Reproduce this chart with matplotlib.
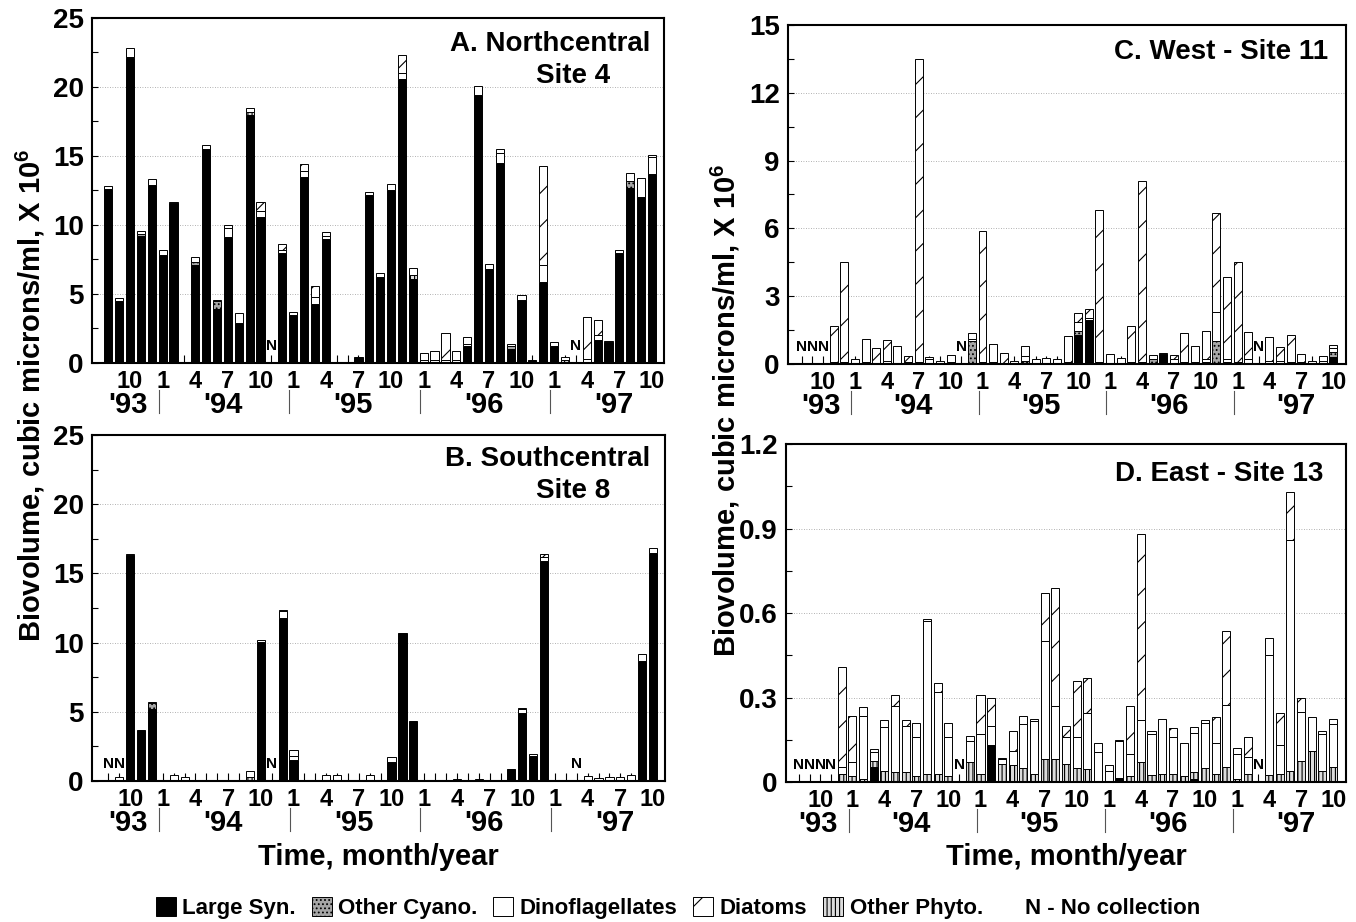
import matplotlib.pyplot as plt
from matplotlib.patches import Patch
import numpy as np

plt.rcParams['font.family'] = ['Liberation Sans', 'DejaVu Sans']
plt.rcParams['font.weight'] = 'bold'
plt.rcParams['mathtext.fontset'] = 'custom'
plt.rcParams['mathtext.rm'] = 'Liberation Sans:bold'
plt.rcParams['mathtext.bf'] = 'Liberation Sans:bold'
plt.rcParams['hatch.linewidth'] = 0.8

# months: index 0 = Aug 1993 ... index 50 = Oct 1997
months = np.arange(51)
tick_labels = ['10', '1', '4', '7'] * 4 + ['10']
years = ["'93", "'94", "'95", "'96", "'97"]

# ---- A. Northcentral Site 4 ----
a_syn = [12.6, 4.5, 22.1, 9.2, 12.9, 7.8, 11.6, 0.1, 7.1, 15.5, 3.9, 9.1, 2.9, 18.0, 10.6, 0,
         8.0, 3.5, 13.5, 4.3, 9.0, 0.05, 0.1, 0.4, 12.2, 6.2, 12.5, 20.6, 6.1, 0, 0, 0, 0, 1.2,
         19.4, 6.8, 14.5, 1.0, 4.6, 0.2, 5.9, 1.2, 0, 0, 0, 1.7, 1.5, 8.0, 12.7, 12.0, 13.7]
a_cyano = [0, 0, 0, 0.15, 0, 0, 0, 0, 0.2, 0, 0.6, 0, 0, 0, 0, 0,
           0, 0, 0, 0, 0, 0, 0, 0, 0, 0, 0, 0, 0, 0, 0, 0, 0, 0,
           0, 0, 0, 0.2, 0, 0, 0, 0, 0, 0, 0, 0, 0, 0, 0.5, 0, 0]
a_phyto = [0, 0, 0.1, 0, 0, 0, 0, 0, 0, 0, 0, 0, 0, 0.2, 0, 0,
           0, 0, 0, 0, 0, 0, 0, 0, 0, 0, 0, 0, 0.3, 0, 0, 0, 0, 0,
           0, 0, 0, 0, 0, 0, 0, 0, 0.2, 0, 0, 0, 0, 0, 0, 0, 0]
a_dino = [0.2, 0.2, 0.6, 0.25, 0.4, 0.4, 0.1, 0, 0.4, 0.3, 0.1, 0.7, 0.7, 0.3, 0.4, 0,
          0.2, 0.2, 0.4, 0.5, 0.2, 0, 0, 0, 0.2, 0.3, 0.5, 0.4, 0.5, 0.2, 0.2, 0.2, 0.2, 0.2,
          0.7, 0.4, 0.7, 0.2, 0.3, 0, 1.2, 0.3, 0.2, 0, 0.3, 0.3, 0.1, 0.2, 0.6, 1.4, 1.2]
a_diatom = [0, 0, 0, 0, 0, 0, 0, 0, 0, 0, 0, 0.2, 0, 0, 0.7, 0,
            0.4, 0, 0.5, 0.8, 0.3, 0, 0, 0, 0, 0, 0, 1.3, 0, 0.5, 0.7, 2.0, 0.7, 0.5,
            0, 0, 0.3, 0, 0, 0, 7.2, 0, 0, 0, 3.0, 1.1, 0, 0, 0, 0, 0.2]
a_none = [15, 43]

# ---- B. Southcentral Site 8 ----
b_syn = [0, 0, 16.3, 3.7, 5.2, 0.05, 0.1, 0, 0.05, 0.1, 0.1, 0.1, 0.1, 0, 10.05, 0,
         11.8, 1.5, 0.05, 0.05, 0, 0, 0.05, 0.1, 0, 0.1, 1.4, 10.7, 4.3, 0.05, 0.05, 0.05, 0, 0.1,
         0, 0.1, 0.1, 0.85, 4.9, 1.8, 15.9, 0.1, 0, 0, 0, 0, 0, 0, 0, 8.65, 16.45]
b_cyano = [0, 0, 0, 0, 0.4, 0, 0, 0, 0, 0, 0, 0, 0, 0, 0, 0,
           0, 0, 0, 0, 0, 0, 0, 0, 0, 0, 0, 0, 0, 0, 0, 0, 0, 0,
           0, 0, 0, 0, 0, 0, 0, 0, 0, 0, 0, 0, 0, 0, 0, 0, 0]
b_phyto = [0, 0, 0, 0, 0, 0, 0, 0, 0, 0, 0, 0, 0, 0.3, 0, 0,
           0, 0, 0, 0, 0, 0, 0, 0, 0, 0, 0, 0, 0, 0, 0, 0, 0, 0,
           0, 0, 0, 0, 0, 0, 0, 0, 0, 0, 0, 0, 0, 0, 0, 0, 0]
b_dino = [0, 0.3, 0.1, 0, 0.1, 0, 0.3, 0.3, 0, 0, 0, 0, 0, 0.4, 0.15, 0,
          0.45, 0.3, 0, 0, 0.45, 0.4, 0, 0, 0.4, 0, 0.3, 0, 0, 0, 0, 0, 0.15, 0,
          0.15, 0, 0, 0, 0.3, 0.15, 0.3, 0, 0, 0, 0.35, 0.2, 0.3, 0.3, 0.45, 0.55, 0.4]
b_diatom = [0, 0, 0, 0, 0, 0, 0, 0, 0, 0, 0, 0, 0, 0, 0, 0,
            0.1, 0.45, 0, 0, 0, 0, 0, 0, 0, 0, 0, 0, 0, 0, 0, 0, 0, 0,
            0, 0, 0, 0, 0.1, 0, 0.2, 0, 0, 0, 0, 0, 0, 0, 0, 0, 0]
b_none = [0, 1, 15, 43]

# ---- C. West - Site 11 ----
c_syn = [0, 0, 0, 0, 0, 0, 0, 0, 0, 0, 0, 0, 0, 0, 0, 0,
         0, 0, 0, 0, 0, 0, 0, 0, 0, 0, 1.3, 1.95, 0, 0, 0, 0, 0, 0,
         0.45, 0, 0, 0, 0.1, 0, 0.1, 0, 0, 0, 0, 0, 0, 0, 0, 0, 0.3]
c_cyano = [0, 0, 0, 0, 0, 0, 0, 0, 0, 0, 0, 0, 0, 0, 0, 0,
           1.0, 0, 0, 0, 0, 0.15, 0, 0, 0, 0, 0.15, 0, 0, 0, 0, 0, 0, 0.2,
           0, 0, 0, 0, 0, 1.0, 0, 0, 0, 0, 0, 0, 0, 0, 0, 0, 0.25]
c_phyto = [0] * 51
c_dino = [0, 0, 0, 0.1, 0.1, 0.22, 0.1, 0.05, 0.15, 0.05, 0.1, 0.1, 0.2, 0.15, 0.08, 0,
          0.1, 0.1, 0.1, 0.05, 0.15, 0.2, 0.2, 0.25, 0.2, 0.1, 0.4, 0.1, 0.1, 0.45, 0.25, 0.1, 0.1, 0.22,
          0.05, 0.2, 0.1, 0.1, 0.1, 1.3, 0.1, 0.1, 0.2, 0, 0.15, 0.15, 0.1, 0.1, 0.15, 0.15, 0.15]
c_diatom = [0, 0, 0, 1.6, 4.4, 0, 1.0, 0.65, 0.9, 0.75, 0.25, 13.4, 0.1, 0, 0.3, 0,
            0.25, 5.8, 0.8, 0.45, 0, 0.45, 0, 0, 0, 1.15, 0.4, 0.4, 6.7, 0, 0, 1.6, 8.0, 0,
            0, 0.2, 1.25, 0.7, 1.25, 4.4, 3.65, 4.4, 1.2, 0, 1.05, 0.6, 1.2, 0.35, 0, 0.2, 0.15]
c_none = [0, 1, 2, 15, 43]

# ---- D. East - Site 13 ----
d_syn = [0, 0, 0, 0, 0, 0, 0, 0.055, 0, 0, 0, 0, 0, 0, 0, 0,
         0, 0, 0.13, 0, 0, 0, 0, 0, 0, 0, 0, 0, 0.005, 0, 0.015, 0, 0, 0,
         0, 0, 0, 0.01, 0, 0, 0, 0, 0, 0, 0, 0, 0, 0, 0, 0, 0]
d_cyano = [0] * 51
d_phyto = [0, 0, 0, 0, 0.03, 0.02, 0.01, 0.02, 0.04, 0.035, 0.035, 0.02, 0.03, 0.03, 0.02, 0,
           0.07, 0.03, 0, 0.065, 0.06, 0.05, 0.03, 0.08, 0.08, 0.065, 0.05, 0.045, 0, 0.005, 0, 0.02, 0.07, 0.025,
           0.03, 0.03, 0.02, 0.025, 0.05, 0.03, 0.055, 0.01, 0.03, 0, 0.025, 0.03, 0.04, 0.075, 0.11, 0.04, 0.055]
d_dino = [0, 0, 0, 0, 0.025, 0.05, 0.225, 0.032, 0.155, 0.235, 0.165, 0.14, 0.54, 0.29, 0.14, 0,
          0.075, 0.14, 0.07, 0.015, 0.05, 0.155, 0.185, 0.42, 0.19, 0.095, 0.11, 0.2, 0.1, 0.035, 0.13, 0.08, 0.15, 0.145,
          0.195, 0.13, 0.12, 0.14, 0.16, 0.11, 0.22, 0.09, 0.06, 0, 0.425, 0.1, 0.82, 0.175, 0.12, 0.13, 0.15]
d_diatom = [0, 0, 0, 0, 0.355, 0.165, 0.03, 0.01, 0.025, 0.04, 0.02, 0.05, 0.01, 0.03, 0.05, 0,
            0.02, 0.14, 0.1, 0.005, 0.07, 0.03, 0.01, 0.17, 0.42, 0.04, 0.2, 0.125, 0.035, 0.02, 0.005, 0.17, 0.66, 0.01,
            0, 0.03, 0, 0.02, 0.01, 0.09, 0.26, 0.02, 0.07, 0, 0.06, 0.115, 0.17, 0.05, 0, 0.01, 0.02]
d_none = [0, 1, 2, 3, 15, 43]

# stacking order bottom -> top: syn, cyano, phyto, dino, diatom
styles = {
    'syn': dict(facecolor='black', hatch=None),
    'cyano': dict(facecolor='#a6a6a6', hatch='....'),
    'phyto': dict(facecolor='#dcdcdc', hatch='||||'),
    'dino': dict(facecolor='white', hatch=None),
    'diatom': dict(facecolor='white', hatch='/'),
}

W, H = 1356, 922
fig = plt.figure(figsize=(W / 100, H / 100), dpi=100)


def rect(l, t, r, b):
    return [l / W, 1 - b / H, (r - l) / W, (b - t) / H]


def panel(box, parts, none, ymax, ystep, yfmt, xlim):
    ax = fig.add_axes(rect(*box))
    h = box[3] - box[1]
    bottom = np.zeros(51)
    for key, vals in zip(['syn', 'cyano', 'phyto', 'dino', 'diatom'], parts):
        vals = np.array(vals, dtype=float)
        m = vals > 0
        ax.bar(months[m], vals[m], bottom=bottom[m], width=0.75, edgecolor='black',
               linewidth=0.7, **styles[key])
        bottom += vals
    for n in none:
        ax.annotate('N', xy=(n, 0), xytext=(0, 7), textcoords='offset points',
                    ha='center', va='bottom', fontsize=11, fontweight='bold')
    ax.set_xlim(*xlim)
    ax.set_ylim(0, ymax)
    yt = np.arange(0, ymax + ystep / 2, ystep)
    ax.set_yticks(yt)
    ax.set_yticklabels([yfmt(v) for v in yt])
    ax.set_yticks(np.arange(0, ymax, ystep / 2), minor=True)
    ax.set_xticks(np.arange(2, 51, 3))
    ax.set_xticklabels(tick_labels)
    ax.set_xticks(months, minor=True)
    ax.tick_params(axis='x', which='both', direction='in', length=6, width=0.8,
                   labelsize=17, pad=5)
    ax.tick_params(axis='y', which='both', direction='in', length=4, width=0.8,
                   labelsize=20, pad=6)
    ax.yaxis.grid(True, linestyle=(0, (1, 2)), color='#999999', linewidth=0.6)
    ax.set_axisbelow(True)
    for s in ax.spines.values():
        s.set_linewidth(1.5)
    # year labels and separators
    trans = ax.get_xaxis_transform()
    ycent = [1.8, 10.5, 22.5, 34.5, 46.5]
    for x, lab in zip(ycent, years):
        ax.annotate(lab, xy=(x, 0), xycoords=trans, xytext=(0, -42 * 0.72),
                    textcoords='offset points', ha='center', va='center',
                    fontsize=21, fontweight='bold')
    for x in [4.65, 16.65, 28.65, 40.65]:
        ax.plot([x, x], [-27 / h, -50 / h], transform=trans, color='#555555',
                linewidth=0.8, clip_on=False)
    return ax


fmt_int = lambda v: '%d' % v
fmt_d = lambda v: '0' if v == 0 else '%.1f' % v

panel((92, 18, 664, 363), [a_syn, a_cyano, a_phyto, a_dino, a_diatom], a_none, 25, 5, fmt_int, (-1.5, 51.1))
panel((92, 435, 665, 781), [b_syn, b_cyano, b_phyto, b_dino, b_diatom], b_none, 25, 5, fmt_int, (-1.5, 51.1))
panel((788, 25, 1346, 364), [c_syn, c_cyano, c_phyto, c_dino, c_diatom], c_none, 15, 3, fmt_int, (-1.3, 51.2))
panel((786, 444, 1346, 782), [d_syn, d_cyano, d_phyto, d_dino, d_diatom], d_none, 1.2, 0.3, fmt_d, (-1.2, 51.2))

tkw = dict(fontsize=20, fontweight='bold', va='baseline', ha='right')
fig.text(650 / W, 1 - 51 / H, 'A. Northcentral', **tkw)
fig.text(610 / W, 1 - 83 / H, 'Site 4', **tkw)
fig.text(650 / W, 1 - 466 / H, 'B. Southcentral', **tkw)
fig.text(610 / W, 1 - 498 / H, 'Site 8', **tkw)
fig.text(1328 / W, 1 - 59 / H, 'C. West - Site 11', **tkw)
fig.text(1323 / W, 1 - 481 / H, 'D. East - Site 13', **tkw)

ylab = r'Biovolume, cubic microns/ml, X 10$^{6}$'
fig.text(30 / W, 1 - 395 / H, ylab, rotation=90, ha='center', va='center', fontsize=21, fontweight='bold')
fig.text(725 / W, 1 - 410 / H, ylab, rotation=90, ha='center', va='center', fontsize=21, fontweight='bold')
fig.text(378 / W, 1 - 857 / H, 'Time, month/year', ha='center', va='center', fontsize=21, fontweight='bold')
fig.text(1066 / W, 1 - 857 / H, 'Time, month/year', ha='center', va='center', fontsize=21, fontweight='bold')

handles = [Patch(edgecolor='black', linewidth=0.7, **styles[k]) for k in ['syn', 'cyano', 'dino', 'diatom', 'phyto']]
handles.append(Patch(visible=False))
labels = ['Large Syn.', 'Other Cyano.', 'Dinoflagellates', 'Diatoms', 'Other Phyto.', 'N - No collection']
fig.legend(handles, labels, loc='center', bbox_to_anchor=(0.5, 1 - 908 / H), ncol=6, frameon=False,
           handlelength=0.9, handleheight=0.9, handletextpad=0.3, columnspacing=0.7,
           prop={'weight': 'bold', 'size': 16})

fig.savefig('out.png', dpi=100)
